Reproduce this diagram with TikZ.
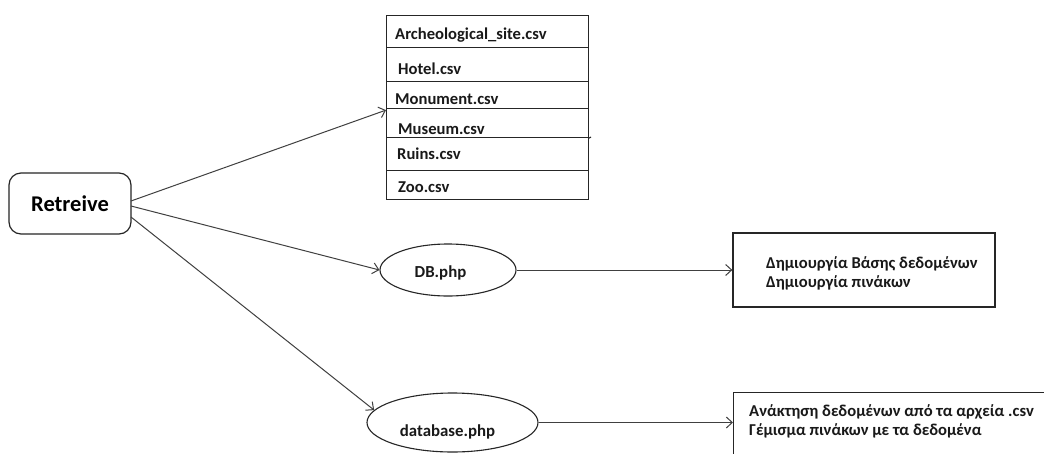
\documentclass[tikz,border=0pt]{standalone}
\usepackage{fontspec}
\setmainfont{Carlito}
\usetikzlibrary{shapes.geometric,arrows.meta}
\begin{document}
\begin{tikzpicture}[x=1pt,y=-1pt,
  conn/.style={draw=black!75, line width=1pt, -{Straight Barb[length=6pt,width=11pt]}},
  rowbox/.style={draw=black!85, line width=1.1pt, rectangle, minimum width=202pt, inner sep=0, anchor=north west},
  lbl/.style={font=\fontsize{16.6}{19}\selectfont\bfseries, inner sep=0, anchor=base west, text=black!90},
  clbl/.style={font=\fontsize{16.8}{19}\selectfont\bfseries, inner sep=0, anchor=base, text=black!90},
  oval/.style={draw=black!85, line width=1.1pt, ellipse, inner sep=0},
  bigbox/.style={draw=black!85, line width=1.3pt, rectangle, inner sep=0}
]
\useasboundingbox (0,0) rectangle (1044,453);
\clip (0,0) rectangle (1044,453);
\fill[white] (0,0) rectangle (1044,453);

% Retreive
\node[draw=black!85, line width=1.2pt, rounded corners=12pt, minimum width=122pt, minimum height=61pt, inner sep=0,
      font=\fontsize{22.5}{26}\selectfont\bfseries] (ret) at (70,203.5) {Retreive};

% csv table
\node[rowbox, minimum height=32pt] (r1) at (386,15) {};
\node[rowbox, minimum height=34pt] (r2) at (386,47) {};
\node[rowbox, minimum height=27pt] (r3) at (386,81) {};
\node[rowbox, minimum height=29pt] (r4) at (386,108) {};
\node[rowbox, minimum height=33pt] (r5) at (386,137) {};
\node[rowbox, minimum height=29pt] (r6) at (386,170) {};
\coordinate (mext) at (591,137);
\draw[draw=black!85, line width=1.1pt] (r4.south east) -- (mext);

\node[lbl] (t1) at (395,39) {Archeological\_site.csv};
\node[lbl] (t2) at (398,74) {Hotel.csv};
\node[lbl] (t3) at (395,104) {Monument.csv};
\node[lbl] (t4) at (398,134) {Museum.csv};
\node[lbl] (t5) at (397,159) {Ruins.csv};
\node[lbl] (t6) at (398,192) {Zoo.csv};

% ellipses
\node[oval, minimum width=136pt, minimum height=52pt] (db) at (448,270) {};
\node[clbl] (dbt) at (440.5,277) {DB.php};
\node[oval, minimum width=171pt, minimum height=59pt] (dbase) at (452.5,422.5) {};
\node[clbl] (dbaset) at (447.5,436) {database.php};

% boxes
\node[bigbox, minimum width=262pt, minimum height=74pt] (box1) at (864,270) {};
\node[lbl] (g1) at (766,268) {Δημιουργία Βάσης δεδομένων};
\node[lbl] (g2) at (766,287) {Δημιουργία πινάκων};

\node[bigbox, minimum width=340pt, minimum height=120pt, anchor=north west] (box2) at (733,392) {};
\node[lbl] (g3) at (749,416) {Ανάκτηση δεδομένων από τα αρχεία .csv};
\node[lbl] (g4) at (749,435) {Γέμισμα πινάκων με τα δεδομένα};

% connectors
\coordinate (s1) at (131,201);
\coordinate (s2) at (131,206);
\coordinate (s3) at (131,217);
\draw[conn] (s1) -- ([yshift=-1pt]r3.south west);
\draw[conn] (s2) -- (db.west);
\draw[conn] (s3) -- (dbase.171);
\draw[conn] (db.east) -- (box1.west);
\draw[conn] (dbase.east) -- (box2.west |- dbase.east);
\end{tikzpicture}
\end{document}
